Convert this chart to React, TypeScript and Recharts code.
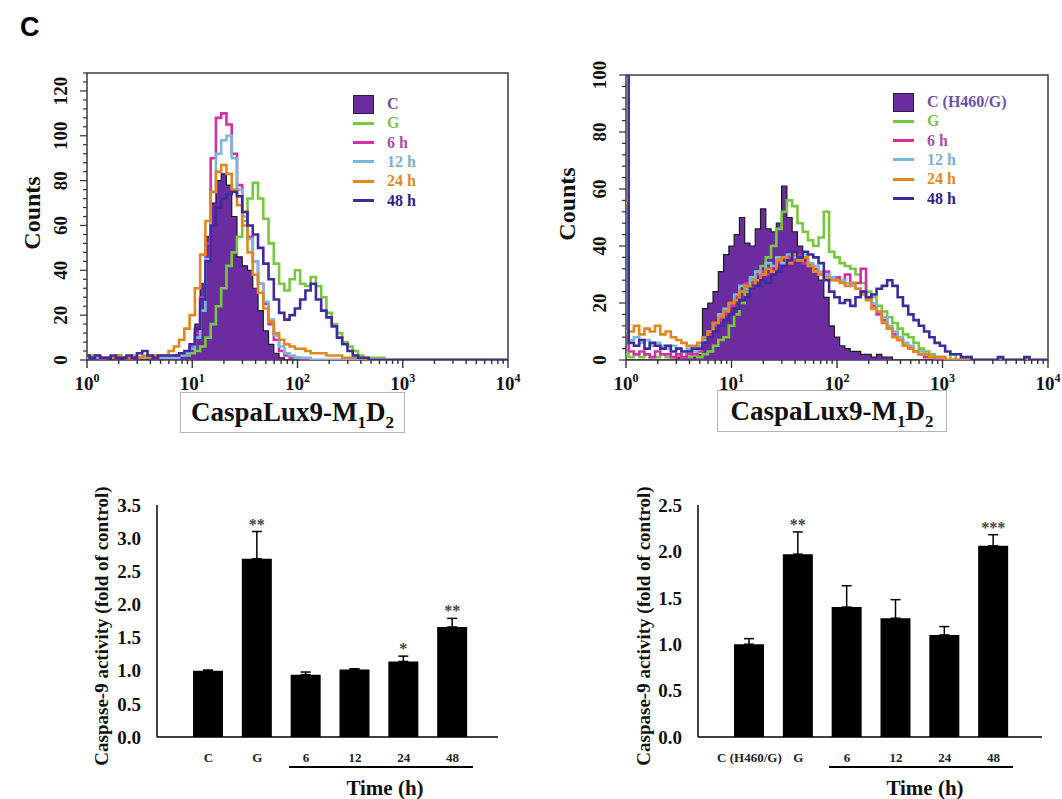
import React from "react";
import {
  ComposedChart,
  Area,
  Line,
  XAxis,
  YAxis,
  ReferenceArea,
  BarChart,
  Bar,
  ErrorBar,
  LabelList,
} from "recharts";

const SERIF = '"Liberation Serif", "Times New Roman", serif';
const SANS = '"Liberation Sans", Arial, sans-serif';

// flow histograms: 20 bins per decade, 10^0 .. 10^4 (81 bins)
const BINS_PER_DECADE = 20;

// ---- left histogram (H460) ----
const cA = [
  1, 1, 1, 1, 0, 1, 1, 0, 1, 1, 1, 0, 1, 1, 1, 1, 1, 1, 2, 3,
  6, 16, 34, 55, 70, 80, 83, 78, 64, 46, 42, 40, 32, 22, 13, 7, 3, 1, 0, 0,
  0, 0, 0, 0, 0, 0, 0, 0, 0, 0, 0, 0, 0, 0, 0, 0, 0, 0, 0, 0,
  0, 0, 0, 0, 0, 0, 0, 0, 0, 0, 0, 0, 0, 0, 0, 0, 0, 0, 0, 0,
  0,
];
const gA = [
  1, 2, 1, 1, 1, 1, 2, 1, 1, 1, 1, 1, 1, 2, 1, 1, 1, 2, 2, 2,
  3, 4, 6, 10, 16, 24, 32, 42, 48, 55, 62, 72, 79, 72, 63, 52, 43, 34, 31, 36,
  40, 34, 33, 37, 33, 28, 21, 16, 12, 8, 6, 4, 2, 1, 1, 1, 1, 0, 0, 0,
  0, 0, 0, 0, 0, 0, 0, 0, 0, 0, 0, 0, 0, 0, 0, 0, 0, 0, 0, 0,
  0,
];
const h6A = [
  1, 1, 1, 0, 1, 1, 1, 1, 0, 1, 1, 1, 1, 1, 1, 1, 1, 2, 2, 3,
  6, 12, 28, 52, 90, 108, 110, 105, 92, 78, 66, 55, 44, 34, 25, 16, 9, 4, 2, 1,
  1, 0, 0, 0, 0, 0, 0, 0, 0, 0, 0, 0, 0, 0, 0, 0, 0, 0, 0, 0,
  0, 0, 0, 0, 0, 0, 0, 0, 0, 0, 0, 0, 0, 0, 0, 0, 0, 0, 0, 0,
  0,
];
const h12A = [
  1, 1, 1, 1, 1, 1, 1, 1, 1, 1, 1, 1, 1, 1, 1, 1, 1, 1, 2, 3,
  5, 10, 22, 45, 75, 92, 98, 100, 90, 76, 64, 54, 44, 34, 26, 18, 11, 6, 3, 2,
  1, 1, 1, 0, 0, 0, 0, 0, 0, 0, 0, 0, 0, 0, 0, 0, 0, 0, 0, 0,
  0, 0, 0, 0, 0, 0, 0, 0, 0, 0, 0, 0, 0, 0, 0, 0, 0, 0, 0, 0,
  0,
];
const h24A = [
  2, 1, 2, 1, 1, 1, 2, 1, 1, 2, 1, 2, 1, 2, 2, 2, 4, 6, 9, 14,
  20, 32, 47, 62, 75, 84, 87, 83, 76, 69, 60, 48, 38, 30, 23, 17, 12, 9, 7, 6,
  5, 5, 4, 3, 3, 3, 2, 2, 2, 1, 1, 1, 1, 0, 0, 0, 0, 0, 0, 0,
  0, 0, 0, 0, 0, 0, 0, 0, 0, 0, 0, 0, 0, 0, 0, 0, 0, 0, 0, 0,
  0,
];
const h48A = [
  2, 1, 2, 1, 1, 2, 1, 1, 2, 1, 3, 4, 2, 1, 2, 2, 2, 2, 3, 4,
  7, 14, 27, 44, 60, 68, 72, 74, 75, 73, 66, 60, 56, 50, 43, 36, 27, 21, 18, 20,
  23, 27, 31, 34, 27, 22, 19, 15, 10, 7, 4, 2, 1, 1, 0, 0, 0, 0, 0, 0,
  0, 0, 0, 0, 0, 0, 0, 0, 0, 0, 0, 0, 0, 0, 0, 0, 0, 0, 0, 0,
  0,
];

// ---- right histogram (H460/G) ----
const cB = [
  0, 0, 0, 0, 0, 0, 0, 0, 0, 0, 1, 1, 1, 1, 2, 18, 20, 24, 31, 37,
  40, 44, 50, 41, 40, 46, 53, 46, 45, 48, 61, 50, 45, 40, 36, 34, 31, 28, 22, 12,
  8, 5, 4, 3, 3, 2, 2, 1, 2, 1, 1, 0, 0, 0, 0, 0, 0, 0, 0, 0,
  0, 0, 0, 0, 0, 0, 0, 0, 0, 0, 0, 0, 0, 0, 0, 0, 0, 0, 0, 0,
  0,
];
const gB = [
  2, 1, 2, 1, 2, 1, 1, 2, 1, 1, 2, 1, 1, 2, 1, 2, 3, 5, 7, 8,
  12, 16, 20, 24, 28, 31, 33, 36, 40, 46, 52, 56, 54, 48, 45, 42, 40, 43, 52, 38,
  36, 34, 33, 32, 30, 27, 24, 22, 19, 17, 15, 13, 11, 9, 8, 6, 4, 3, 2, 1,
  1, 0, 2, 0, 0, 1, 0, 0, 0, 0, 0, 0, 0, 0, 0, 0, 0, 0, 0, 0,
  0,
];
const h6B = [
  8, 3, 2, 3, 2, 1, 3, 2, 2, 1, 2, 1, 2, 2, 3, 6, 9, 12, 14, 16,
  19, 22, 24, 27, 27, 30, 31, 30, 33, 34, 33, 36, 35, 37, 34, 33, 32, 30, 31, 29,
  29, 28, 30, 27, 27, 32, 22, 19, 16, 14, 11, 9, 7, 5, 4, 3, 2, 1, 1, 0,
  0, 0, 0, 0, 0, 0, 0, 0, 0, 0, 0, 0, 0, 0, 0, 0, 0, 0, 0, 0,
  0,
];
const h12B = [
  10, 7, 8, 6, 7, 5, 6, 5, 4, 5, 4, 3, 4, 3, 5, 7, 10, 13, 16, 18,
  20, 23, 26, 25, 29, 31, 30, 34, 33, 36, 34, 37, 36, 35, 37, 34, 33, 31, 30, 29,
  28, 28, 27, 26, 25, 24, 22, 20, 17, 15, 12, 10, 8, 6, 5, 3, 3, 2, 1, 1,
  1, 0, 0, 0, 0, 0, 0, 0, 0, 0, 0, 0, 0, 0, 0, 0, 0, 0, 0, 0,
  0,
];
const h24B = [
  55, 10, 12, 9, 11, 10, 12, 9, 10, 8, 7, 6, 5, 5, 6, 8, 10, 13, 15, 17,
  20, 21, 24, 26, 25, 28, 30, 32, 31, 35, 36, 34, 37, 35, 36, 33, 31, 30, 29, 28,
  28, 27, 26, 27, 25, 23, 21, 18, 17, 13, 11, 8, 7, 5, 4, 3, 2, 2, 1, 1,
  1, 0, 0, 0, 0, 0, 0, 0, 0, 0, 0, 0, 0, 0, 0, 0, 0, 0, 0, 0,
  0,
];
const h48B = [
  100, 6, 5, 7, 4, 6, 5, 4, 5, 3, 4, 3, 3, 4, 4, 6, 8, 10, 12, 14,
  16, 18, 21, 22, 25, 26, 28, 27, 30, 31, 33, 35, 38, 36, 38, 37, 36, 34, 28, 24,
  22, 20, 21, 19, 22, 24, 22, 23, 25, 26, 28, 26, 22, 19, 16, 14, 12, 10, 8, 6,
  5, 3, 2, 2, 1, 1, 0, 0, 0, 0, 0, 1, 0, 0, 0, 0, 1, 0, 0, 0,
  0,
];

const legendLabelsA = ["C", "G", "6 h", "12 h", "24 h", "48 h"];
const legendLabelsB = ["C (H460/G)", "G", "6 h", "12 h", "24 h", "48 h"];
const decadeTicks = [0, 1, 2, 3, 4];
const countLabelsA = [0, 20, 40, 60, 80, 100, 120];
const countLabelsB = [0, 20, 40, 60, 80, 100];

// ---- caspase-9 bar charts ----
const barCatsA = ["C", "G", "6", "12", "24", "48"];
const barValsA = [1.0, 2.69, 0.94, 1.02, 1.14, 1.66];
const barErrA = [0.01, 0.41, 0.04, 0.01, 0.08, 0.13];
const barSigA = ["", "**", "", "", "*", "**"];
const barTicksA = [0, 0.5, 1.0, 1.5, 2.0, 2.5, 3.0, 3.5];

const barCatsB = ["C (H460/G)", "G", "6", "12", "24", "48"];
const barValsB = [1.0, 1.97, 1.4, 1.28, 1.1, 2.06];
const barErrB = [0.06, 0.24, 0.23, 0.2, 0.09, 0.12];
const barSigB = ["", "**", "", "", "", "***"];
const barTicksB = [0, 0.5, 1.0, 1.5, 2.0, 2.5];

const histKeys = ["c", "g", "h6", "h12", "h24", "h48"];
const lineKeys = ["g", "h6", "h12", "h24", "h48"];
const histColors: Record<string, string> = {
  c: "#6a2c9e",
  g: "#77c83f",
  h6: "#d42fa4",
  h12: "#78b8da",
  h24: "#e2871d",
  h48: "#3e2c9e",
};
const legendTextColors: Record<string, string> = {
  c: "#6d51aa",
  g: "#7fbf4a",
  h6: "#a650a8",
  h12: "#7cb0ca",
  h24: "#d98a26",
  h48: "#2e2485",
};

function buildRows(cols: Record<string, number[]>) {
  return cols.c.map((_, i) => {
    const row: Record<string, number> = { lx: i / BINS_PER_DECADE };
    histKeys.forEach((k) => {
      row[k] = cols[k][i] ?? 0;
    });
    return row;
  });
}

const rowsA = buildRows({ c: cA, g: gA, h6: h6A, h12: h12A, h24: h24A, h48: h48A });
const rowsB = buildRows({ c: cB, g: gB, h6: h6B, h12: h12B, h24: h24B, h48: h48B });

// major decades plus log minor ticks
const xTicks = [
  ...decadeTicks,
  ...[0, 1, 2, 3].flatMap((d) => [2, 3, 4, 5, 6, 7, 8, 9].map((m) => d + Math.log10(m))),
];

function LogTick(props: any) {
  const { x, y, payload } = props;
  const v = payload.value as number;
  const major = Math.abs(v - Math.round(v)) < 1e-9;
  return (
    <g>
      <line x1={x} x2={x} y1={y} y2={y + (major ? 8 : 4)} stroke="#333" strokeWidth={1.4} />
      {major && (
        <text x={x} y={y + 30} textAnchor="middle" fontFamily={SERIF} fontWeight={700} fontSize={19} fill="#111">
          10
          <tspan dy={-8} fontSize={12}>
            {Math.round(v)}
          </tspan>
        </text>
      )}
    </g>
  );
}

function makeCountTick(labels: number[]) {
  return (props: any) => {
    const { x, y, payload } = props;
    const v = payload.value as number;
    const major = labels.includes(v);
    return (
      <g>
        <line x1={x} x2={x - (major ? 7 : 4)} y1={y} y2={y} stroke="#333" strokeWidth={1.2} />
        {major && (
          <text
            transform={`translate(${x - 27},${y}) rotate(-90)`}
            textAnchor="middle"
            dominantBaseline="central"
            fontFamily={SERIF}
            fontWeight={700}
            fontSize={19}
            fill="#111"
          >
            {v}
          </text>
        )}
      </g>
    );
  };
}

function Histogram(props: {
  left: number;
  width: number;
  top: number;
  mLeft: number;
  mRight: number;
  rows: Record<string, number>[];
  yMax: number;
  labels: number[];
}) {
  const { left, width, top, mLeft, mRight, rows, yMax, labels } = props;
  const yTicks = Array.from({ length: yMax / 4 + 1 }, (_, i) => i * 4);
  const CountTick = makeCountTick(labels);
  return (
    <div style={{ position: "absolute", left, top: 0 }}>
      <ComposedChart width={width} height={450} data={rows} margin={{ top, right: mRight, bottom: 50, left: mLeft }}>
        <ReferenceArea x1={0} x2={4} y1={0} y2={yMax} fill="none" stroke="#3b3b3b" strokeWidth={1.5} ifOverflow="visible" />
        <XAxis
          type="number"
          dataKey="lx"
          domain={[0, 4]}
          ticks={xTicks}
          interval={0}
          tick={(p: any) => <LogTick {...p} />}
          tickSize={0}
          tickMargin={0}
          axisLine={false}
          tickLine={false}
          height={40}
          allowDataOverflow
        />
        <YAxis
          type="number"
          domain={[0, yMax]}
          ticks={yTicks}
          interval={0}
          tick={(p: any) => <CountTick {...p} />}
          tickSize={0}
          tickMargin={0}
          axisLine={false}
          tickLine={false}
          width={60}
          allowDataOverflow
        />
        <Area
          type="step"
          dataKey="c"
          stroke="#1b1b1b"
          strokeWidth={1.2}
          fill={histColors.c}
          fillOpacity={1}
          isAnimationActive={false}
        />
        {lineKeys.map((k) => (
          <Line
            key={k}
            type="step"
            dataKey={k}
            stroke={histColors[k]}
            strokeWidth={2.6}
            dot={false}
            isAnimationActive={false}
          />
        ))}
      </ComposedChart>
    </div>
  );
}

function HistLegend({ left, top, labels }: { left: number; top: number; labels: string[] }) {
  return (
    <div style={{ position: "absolute", left, top }}>
      {histKeys.map((k, i) => (
        <div
          key={k}
          style={{
            position: "absolute",
            left: 0,
            top: i * 19.3,
            height: 20,
            display: "flex",
            alignItems: "center",
            whiteSpace: "nowrap",
          }}
        >
          <div
            style={{
              width: 21,
              height: k === "c" ? 19 : 3,
              background: histColors[k],
              border: k === "c" ? "1px solid #2a1a40" : "none",
              boxSizing: "border-box",
            }}
          />
          <span
            style={{
              marginLeft: 13,
              fontFamily: SERIF,
              fontWeight: 700,
              fontSize: 16,
              color: legendTextColors[k],
              lineHeight: 1,
            }}
          >
            {labels[i]}
          </span>
        </div>
      ))}
    </div>
  );
}

function AxisBox({ left, top, width, height }: { left: number; top: number; width: number; height: number }) {
  const sub: React.CSSProperties = { fontSize: 17, position: "relative", top: 7, verticalAlign: "baseline" };
  return (
    <div
      style={{
        position: "absolute",
        left,
        top,
        width,
        height,
        border: "1px solid #b5b5b5",
        boxSizing: "border-box",
        display: "flex",
        alignItems: "center",
        justifyContent: "center",
        fontFamily: SERIF,
        fontWeight: 700,
        fontSize: 27,
        lineHeight: 1,
        color: "#111",
        whiteSpace: "nowrap",
      }}
    >
      <span>
        CaspaLux9-M<span style={sub}>1</span>D<span style={sub}>2</span>
      </span>
    </div>
  );
}

function Rotated({ x, y, size, text }: { x: number; y: number; size: number; text: string }) {
  return (
    <div
      style={{
        position: "absolute",
        left: x,
        top: y,
        transform: "translate(-50%, -50%) rotate(-90deg)",
        fontFamily: SERIF,
        fontWeight: 700,
        fontSize: size,
        lineHeight: 1,
        whiteSpace: "nowrap",
        color: "#111",
      }}
    >
      {text}
    </div>
  );
}

function renderStars(p: any, vals: number[], errs: number[]) {
  const vb = p.viewBox ?? p;
  const i = p.index;
  if (!p.value || i == null) return null;
  const pxPerUnit = vb.height / vals[i];
  const yTop = vb.y - errs[i] * pxPerUnit;
  return (
    <text
      x={vb.x + vb.width / 2}
      y={yTop - 2}
      textAnchor="middle"
      fontFamily={SERIF}
      fontWeight={700}
      fontSize={16}
      fill="#444"
    >
      {p.value}
    </text>
  );
}

function ActivityBars(props: {
  left: number;
  width: number;
  mLeft: number;
  mRight: number;
  padL: number;
  padR: number;
  cats: string[];
  vals: number[];
  errs: number[];
  sig: string[];
  ticks: number[];
}) {
  const { left, width, mLeft, mRight, padL, padR, cats, vals, errs, sig, ticks } = props;
  const rows = cats.map((name, i) => ({ name, value: vals[i], err: [0, errs[i]], sig: sig[i] }));
  return (
    <div style={{ position: "absolute", left, top: 470 }}>
      <BarChart width={width} height={329} data={rows} margin={{ top: 35, right: mRight, bottom: 32, left: mLeft }} barSize={30}>
        <XAxis
          dataKey="name"
          interval={0}
          padding={{ left: padL, right: padR }}
          tickLine={false}
          axisLine={{ stroke: "#000", strokeWidth: 1.5 }}
          tickMargin={10}
          height={30}
          tick={{ fontFamily: SERIF, fontWeight: 700, fontSize: 13, fill: "#222" }}
        />
        <YAxis
          type="number"
          domain={[0, ticks[ticks.length - 1]]}
          ticks={ticks}
          interval={0}
          tickFormatter={(v: number) => v.toFixed(1)}
          tickLine={false}
          axisLine={{ stroke: "#000", strokeWidth: 1.5 }}
          tickMargin={10}
          width={60}
          tick={{ fontFamily: SERIF, fontWeight: 700, fontSize: 19, fill: "#111" }}
        />
        <Bar dataKey="value" fill="#000" isAnimationActive={false}>
          <ErrorBar dataKey="err" direction="y" width={5} stroke="#000" strokeWidth={1.5} />
          <LabelList dataKey="sig" content={(p: any) => renderStars(p, vals, errs)} />
        </Bar>
      </BarChart>
    </div>
  );
}

function TimeLabel({ x1, x2, cx }: { x1: number; x2: number; cx: number }) {
  return (
    <>
      <div style={{ position: "absolute", left: x1, top: 766, width: x2 - x1, height: 1.5, background: "#000" }} />
      <div
        style={{
          position: "absolute",
          left: cx - 60,
          width: 120,
          top: 778,
          textAlign: "center",
          fontFamily: SERIF,
          fontWeight: 700,
          fontSize: 21,
          lineHeight: 1,
          color: "#111",
        }}
      >
        Time (h)
      </div>
    </>
  );
}

export default function App() {
  return (
    <div
      style={{
        position: "absolute",
        left: 0,
        top: 0,
        width: 1062,
        height: 799,
        background: "#fff",
        overflow: "hidden",
      }}
    >
      <div style={{ position: "absolute", left: 20, top: 14, fontFamily: SANS, fontWeight: 700, fontSize: 27, lineHeight: 1 }}>
        C
      </div>

      <Histogram left={0} width={530} top={73} mLeft={27} mRight={22} rows={rowsA} yMax={128} labels={countLabelsA} />
      <HistLegend left={353} top={94} labels={legendLabelsA} />
      <Rotated x={32} y={213} size={24} text="Counts" />
      <AxisBox left={180} top={392} width={225} height={41} />

      <Histogram left={530} width={532} top={75} mLeft={36} mRight={14} rows={rowsB} yMax={100} labels={countLabelsB} />
      <HistLegend left={893} top={92} labels={legendLabelsB} />
      <Rotated x={567} y={204} size={24} text="Counts" />
      <AxisBox left={717} top={390} width={230} height={42} />

      <ActivityBars
        left={0}
        width={520}
        mLeft={97}
        mRight={22}
        padL={27}
        padR={21}
        cats={barCatsA}
        vals={barValsA}
        errs={barErrA}
        sig={barSigA}
        ticks={barTicksA}
      />
      <Rotated x={101} y={626} size={19} text="Caspase-9 activity (fold of control)" />
      <TimeLabel x1={289} x2={473} cx={385} />

      <ActivityBars
        left={540}
        width={522}
        mLeft={98}
        mRight={20}
        padL={27}
        padR={24}
        cats={barCatsB}
        vals={barValsB}
        errs={barErrB}
        sig={barSigB}
        ticks={barTicksB}
      />
      <Rotated x={643} y={626} size={19} text="Caspase-9 activity (fold of control)" />
      <TimeLabel x1={829} x2={1013} cx={925} />
    </div>
  );
}
